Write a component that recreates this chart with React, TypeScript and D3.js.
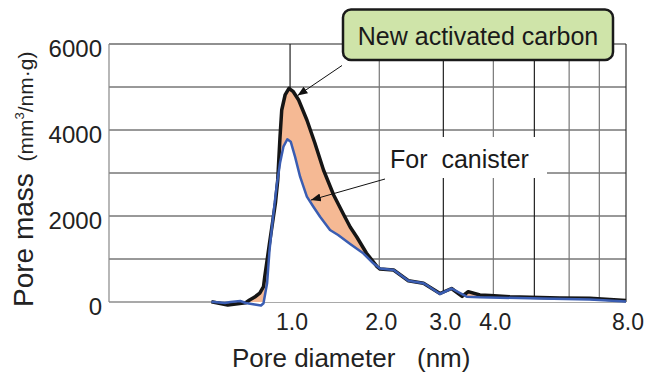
import * as d3 from "d3";

const width = 659;
const height = 378;
const margin = { top: 44, right: 33, bottom: 76, left: 109 };

// pore diameter (nm) / pore mass (mm3/nm.g)
const newCarbonX = [0.39, 0.5, 0.63, 0.66, 0.7, 0.74, 0.77, 0.78, 0.82, 0.87, 0.89, 0.91, 0.925, 0.955, 0.99, 1.03, 1.08, 1.16, 1.24, 1.33, 1.44, 1.55, 1.63, 1.71, 1.83, 1.97, 2.01, 2.2, 2.42, 2.66, 2.94, 3.15, 3.35, 3.47, 3.71, 3.93, 4.38, 4.88, 5.72, 6.67, 7.38, 8.0];
const newCarbonY = [7, -70, -16, 47, 116, 209, 356, 580, 1372, 2302, 2838, 3845, 4465, 4814, 4970, 4891, 4698, 4233, 3698, 3070, 2488, 2047, 1744, 1512, 1140, 821, 767, 744, 495, 435, 198, 314, 130, 240, 163, 151, 123, 109, 93, 86, 58, 35];

const canisterX = [0.39, 0.48, 0.52, 0.59, 0.63, 0.7, 0.75, 0.77, 0.8, 0.82, 0.85, 0.88, 0.91, 0.94, 0.975, 1.006, 1.046, 1.094, 1.16, 1.225, 1.294, 1.4, 1.49, 1.63, 1.79, 1.92, 2.01, 2.2, 2.42, 2.66, 2.71, 2.94, 3.15, 3.44, 3.71, 4.88, 6.67, 8.0];
const canisterY = [7, -23, 0, 23, -23, -58, -81, -30, 442, 1209, 1984, 2682, 3233, 3612, 3784, 3728, 3380, 2914, 2449, 2216, 1984, 1674, 1558, 1349, 1133, 900, 779, 744, 495, 435, 395, 186, 314, 123, 109, 86, 58, 12];

const yTicks = [0, 2000, 4000, 6000];
const yGrid = [1000, 2000, 3000, 4000, 5000];
const xGrid = [1, 2, 3, 4, 5, 6, 7, 8];
const xTickLabels = ["1.0", "2.0", "3.0", "4.0", "8.0"];
const xTickValues = [1, 2, 3, 4, 8];
const xGridColors = ["#222", "#777", "#222", "#777", "#222", "#777", "#777", "#333"];

const font = "'Liberation Sans', Arial, Helvetica, sans-serif";

export default function App() {
  const x = d3.scaleSymlog().constant(1.1).domain([-0.17, 8])
    .range([margin.left, width - margin.right]);
  const y = d3.scaleLinear().domain([0, 6000])
    .range([height - margin.bottom, margin.top]);

  const newPts = newCarbonX.map((d, i) => [d, newCarbonY[i]]);
  const canPts = canisterX.map((d, i) => [d, canisterY[i]]);

  const line = d3.line().x((d) => x(d[0])).y((d) => y(d[1]));
  const area = d3.area().x((d) => x(d[0])).y0(y(0)).y1((d) => y(d[1]));

  const x0 = margin.left;
  const x1 = width - margin.right;
  const yTop = margin.top;
  const yBot = height - margin.bottom;

  // arrow tips on the curves
  const tip1 = [x(1.07), y(4800)];
  const tip2 = [x(1.2), y(2370)];

  return (
    <svg width={width} height={height}
      style={{ position: "absolute", left: 0, top: 0, background: "#fff" }}
      fontFamily={font}>
      <defs>
        <marker id="arr" viewBox="0 0 10 8" refX="10" refY="4"
          markerWidth="10" markerHeight="8" markerUnits="userSpaceOnUse" orient="auto">
          <path d="M0,0 L10,4 L0,8 Z" fill="#111" />
        </marker>
      </defs>

      {/* grid */}
      {yGrid.map((v) => (
        <line key={"h" + v} x1={x0} x2={x1} y1={y(v)} y2={y(v)} stroke="#333" strokeWidth={1} />
      ))}
      {xGrid.map((v, i) => (
        <line key={"v" + v} x1={x(v)} x2={x(v)} y1={yTop} y2={yBot}
          stroke={xGridColors[i]} strokeWidth={1.2} />
      ))}
      <line x1={x0} x2={x1} y1={yTop} y2={yTop} stroke="#222" strokeWidth={1.2} />
      <line x1={x0} x2={x1} y1={yBot} y2={yBot} stroke="#555" strokeWidth={1.2} />
      <line x1={x0} x2={x0} y1={yTop} y2={yBot} stroke="#888" strokeWidth={1.2} />

      {/* fills */}
      <path d={area(newPts)} fill="#f5b994" />
      <path d={area(canPts)} fill="#fff" />

      {/* curves */}
      <path d={line(newPts)} fill="none" stroke="#151515" strokeWidth={3.5} strokeLinejoin="round" />
      <path d={line(canPts)} fill="none" stroke="#3a5db2" strokeWidth={2.5} strokeLinejoin="round" />

      {/* y ticks */}
      {yTicks.map((v) => (
        <text key={"yt" + v} x={102} y={y(v) + 13} textAnchor="end" fontSize={24} fill="#222">
          {v}
        </text>
      ))}
      {/* x ticks */}
      {xTickValues.map((v, i) => (
        <text key={"xt" + v} x={x(v) + 2} y={330} textAnchor="middle" fontSize={23} fill="#222">
          {xTickLabels[i]}
        </text>
      ))}

      {/* axis titles */}
      <text x={232} y={367} fontSize={26} fill="#222" style={{ whiteSpace: "pre" }}>
        {"Pore diameter   (nm)"}
      </text>
      <text transform="translate(33,307) rotate(-90)" fontSize={28} fill="#222" style={{ whiteSpace: "pre" }}>
        Pore mass
        <tspan fontSize={21}>{"  (mm"}</tspan>
        <tspan fontSize={13} dy={-9}>3</tspan>
        <tspan fontSize={21} dy={9}>{"/nm·g)"}</tspan>
      </text>

      {/* annotations */}
      <line x1={342} y1={65.5} x2={tip1[0]} y2={tip1[1]} stroke="#111" strokeWidth={1} markerEnd="url(#arr)" />
      <rect x={343} y={9.5} width={270} height={50.5} rx={8} fill="#cfe4a9" stroke="#1a1a1a" strokeWidth={2.5} />
      <text x={478} y={45} textAnchor="middle" fontSize={25} fill="#1a1a1a">New activated carbon</text>

      <line x1={385} y1={179} x2={tip2[0]} y2={tip2[1]} stroke="#111" strokeWidth={1} markerEnd="url(#arr)" />
      <rect x={380} y={137} width={167} height={41} fill="#fff" />
      <text x={390} y={168} fontSize={25} fill="#1a1a1a" style={{ whiteSpace: "pre" }}>{"For  canister"}</text>
    </svg>
  );
}
